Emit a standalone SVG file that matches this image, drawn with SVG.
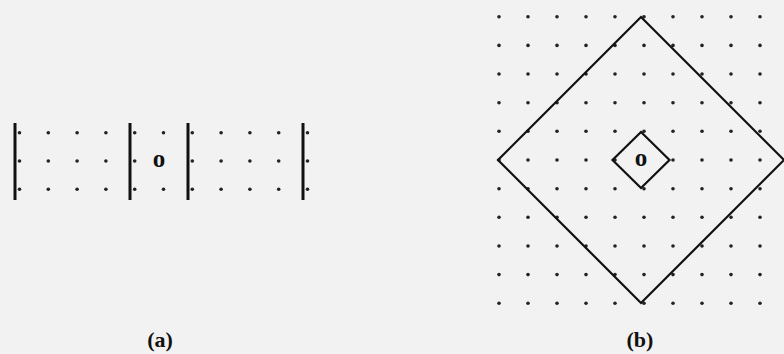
<svg xmlns="http://www.w3.org/2000/svg" width="784" height="354" viewBox="0 0 784 354">
<style>
.bg{fill:#f2f2f2}
.d{fill:#222}
.ln{stroke:#111;stroke-width:3;fill:none;stroke-linecap:butt}
.dm{stroke:#111;stroke-width:2.2;fill:none;stroke-linejoin:miter}
.t{font-family:"Liberation Serif",serif;font-weight:bold;fill:#111}
</style>
<defs>
<circle id="dot" r="1.8" class="d"/>
<g id="row10">
<use href="#dot" x="499"/><use href="#dot" x="528"/><use href="#dot" x="557"/><use href="#dot" x="586"/><use href="#dot" x="615"/><use href="#dot" x="644"/><use href="#dot" x="673"/><use href="#dot" x="702"/><use href="#dot" x="731"/><use href="#dot" x="760"/>
</g>
<g id="rowA">
<use href="#dot" x="19.5"/><use href="#dot" x="48.3"/><use href="#dot" x="77.1"/><use href="#dot" x="105.9"/><use href="#dot" x="134.7"/><use href="#dot" x="163.5"/><use href="#dot" x="192.3"/><use href="#dot" x="221.1"/><use href="#dot" x="249.9"/><use href="#dot" x="278.7"/><use href="#dot" x="307.5"/>
</g>
</defs>
<rect class="bg" x="0" y="0" width="784" height="354"/>

<g id="panel-a">
<g id="grid-a">
<use href="#rowA" y="132.7"/>
<use href="#dot" x="19.5" y="161"/><use href="#dot" x="48.3" y="161"/><use href="#dot" x="77.1" y="161"/><use href="#dot" x="105.9" y="161"/><use href="#dot" x="134.7" y="161"/><use href="#dot" x="192.3" y="161"/><use href="#dot" x="221.1" y="161"/><use href="#dot" x="249.9" y="161"/><use href="#dot" x="278.7" y="161"/><use href="#dot" x="307.5" y="161"/>
<use href="#rowA" y="189.3"/>
</g>
<g id="walls-a">
<line class="ln" x1="15" y1="123" x2="15" y2="200"/>
<line class="ln" x1="130" y1="123" x2="130" y2="200"/>
<line class="ln" x1="188" y1="123" x2="188" y2="200"/>
<line class="ln" x1="303" y1="123" x2="303" y2="200"/>
</g>
<text class="t" x="159" y="167" font-size="25" text-anchor="middle">o</text>
<text class="t" x="160" y="347" font-size="22" text-anchor="middle">(a)</text>
</g>

<g id="panel-b">
<g id="grid-b">
<use href="#row10" y="16.7"/>
<use href="#row10" y="45.4"/>
<use href="#row10" y="74"/>
<use href="#row10" y="102.7"/>
<use href="#row10" y="131.3"/>
<use href="#dot" x="499" y="160"/><use href="#dot" x="528" y="160"/><use href="#dot" x="557" y="160"/><use href="#dot" x="586" y="160"/><use href="#dot" x="615" y="160"/><use href="#dot" x="673" y="160"/><use href="#dot" x="702" y="160"/><use href="#dot" x="731" y="160"/><use href="#dot" x="760" y="160"/>
<use href="#row10" y="188.7"/>
<use href="#row10" y="217.3"/>
<use href="#row10" y="246"/>
<use href="#row10" y="274.6"/>
<use href="#row10" y="303.3"/>
</g>
<g id="big-diamond">
<polygon class="dm" points="641,17 784,160 641,303 498,160"/>
</g>
<g id="small-diamond">
<polygon class="dm" points="641,132 669.5,160 641,188 612.5,160"/>
</g>
<text class="t" x="641" y="166" font-size="25" text-anchor="middle">o</text>
<text class="t" x="640" y="347" font-size="22" text-anchor="middle">(b)</text>
</g>
</svg>
